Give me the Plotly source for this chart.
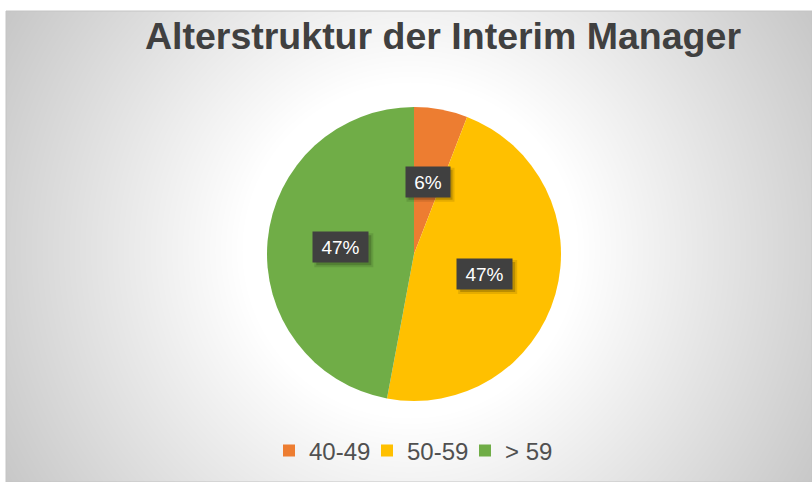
import base64, struct, zlib
import numpy as np
import plotly.graph_objects as go

# ---- data ----
categories = ["40-49", "50-59", "> 59"]
values = [1, 8, 8]
colors = ["#ED7D31", "#FFC000", "#70AD47"]
title_text = "Alterstruktur der Interim Manager"

W, H = 812, 482

# ---- background radial gradient (decoration) ----
def make_png(arr):
    h, w = arr.shape
    raw = b"".join(b"\x00" + arr[i].tobytes() for i in range(h))
    def chunk(t, d):
        c = struct.pack(">I", len(d)) + t + d
        return c + struct.pack(">I", zlib.crc32(t + d) & 0xffffffff)
    png = b"\x89PNG\r\n\x1a\n"
    png += chunk(b"IHDR", struct.pack(">IIBBBBB", w, h, 8, 0, 0, 0, 0))
    png += chunk(b"IDAT", zlib.compress(raw, 9))
    png += chunk(b"IEND", b"")
    return "data:image/png;base64," + base64.b64encode(png).decode()

bx0, by0, bx1, by1 = 6, 11, 812, 482
gw, gh = bx1 - bx0, by1 - by0
yy, xx = np.mgrid[0:gh, 0:gw]
cx, cy = 410 - bx0, 250 - by0
d = np.sqrt((xx - cx) ** 2 + (yy - cy) ** 2)
g = 255 - 0.185 * np.clip(d - 168, 0, None)
g = np.clip(g, 198, 255).astype(np.uint8)
bg_src = make_png(g)

# ---- pie geometry ----
pcx, pcy, R = 414, 254, 147
dom_x = [(pcx - R) / W, (pcx + R) / W]
dom_y = [1 - (pcy + R) / H, 1 - (pcy - R) / H]

fig = go.Figure()
fig.add_trace(go.Pie(
    labels=categories, values=values,
    marker=dict(colors=colors, line=dict(width=0)),
    sort=False, direction="clockwise", rotation=0,
    textinfo="none", hoverinfo="label+percent",
    domain=dict(x=dom_x, y=dom_y),
))

# ---- data labels ----
total = sum(values)
annotations = []
shapes = [dict(
    type="rect", xref="paper", yref="paper",
    x0=bx0 / W, x1=1, y0=0, y1=1 - by0 / H,
    line=dict(color="#C4C4C4", width=1), fillcolor="rgba(0,0,0,0)", layer="below",
)]
box_h = 30
cum = 0.0
for v in values:
    mid = (cum + v / 2) / total * 2 * np.pi
    cum += v
    px = pcx + 0.5 * R * np.sin(mid)
    py = pcy - 0.5 * R * np.cos(mid)
    txt = f"{round(v / total * 100)}%"
    wid = 11 * len(txt) + 14
    bw = wid + 8
    # soft shadow (two layers)
    for off, alpha, grow in [(3, 0.10, 2), (3, 0.18, 0)]:
        shapes.append(dict(
            type="rect", xref="paper", yref="paper", layer="above",
            x0=(px - bw / 2 + off - grow) / W, x1=(px + bw / 2 + off + grow) / W,
            y0=1 - (py + box_h / 2 + off + grow) / H, y1=1 - (py - box_h / 2 + off - grow) / H,
            line=dict(width=0), fillcolor=f"rgba(0,0,0,{alpha})",
        ))
    annotations.append(dict(
        x=px / W, y=1 - py / H, xref="paper", yref="paper", text=txt, showarrow=False,
        font=dict(family="Liberation Sans, Arial", size=19, color="#FFFFFF"),
        bgcolor="#404040", borderpad=4, width=wid, height=box_h - 8,
    ))

fig.update_layout(
    width=W, height=H,
    margin=dict(l=0, r=0, t=0, b=0),
    paper_bgcolor="#FFFFFF",
    title=dict(
        text=f"<b>{title_text}</b>",
        font=dict(family="Liberation Sans, Arial", size=37.5, color="#404040"),
        x=443 / W, xanchor="center", y=1 - 23 / H, yanchor="top",
        xref="paper", yref="paper",
    ),
    showlegend=True,
    legend=dict(
        orientation="h", x=0.5 + 10 / W, xanchor="center", y=1 - 451 / H, yanchor="middle",
        font=dict(family="Liberation Sans, Arial", size=24, color="#505050"),
        bgcolor="rgba(0,0,0,0)", traceorder="normal", entrywidth=53,
    ),
    images=[dict(
        source=bg_src, xref="paper", yref="paper",
        x=bx0 / W, y=1 - by0 / H, sizex=gw / W, sizey=gh / H,
        xanchor="left", yanchor="top", sizing="stretch", layer="below",
    )],
    shapes=shapes,
    annotations=annotations,
)

fig.write_html(
    "out.html",
    config={"displayModeBar": False},
    post_script="document.body.style.margin='0';document.body.style.overflow='hidden';",
)
